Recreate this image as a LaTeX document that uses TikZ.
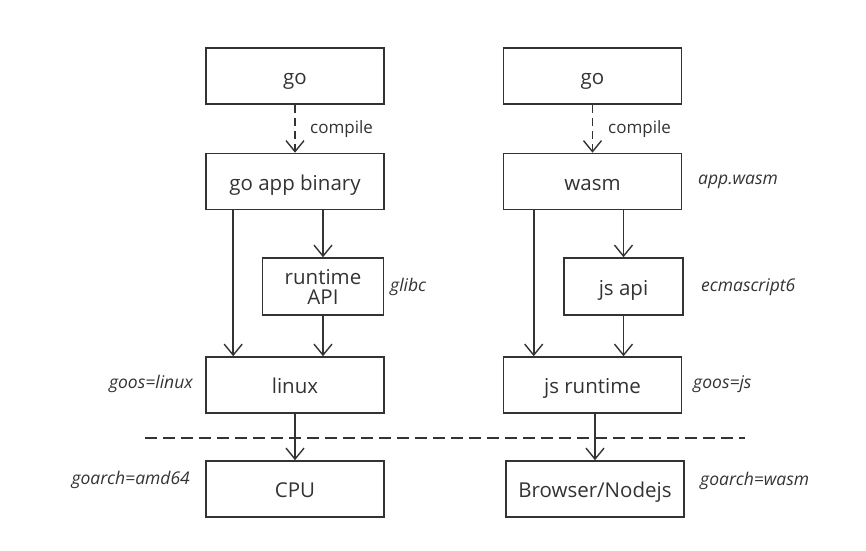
\documentclass[tikz,border=0pt]{standalone}
\usepackage{fontspec}
\setmainfont{Open Sans}
\usetikzlibrary{arrows.meta,calc}
\definecolor{ink}{HTML}{333333}
\tikzset{
  box/.style={draw=ink, line width=1.6pt, text=ink, minimum width=178pt, minimum height=56pt, inner sep=0pt, align=center, font=\fontsize{20.5}{23}\selectfont, text height=17pt, text depth=0pt},
  smallbox/.style={draw=ink, line width=1.6pt, text=ink, minimum width=121pt, minimum height=57pt, inner sep=0pt, align=center, font=\fontsize{20.5}{23}\selectfont},
  arr/.style={draw=ink, line width=1.6pt, -{Straight Barb[length=11pt,width=18pt,line width=1.4pt]}},
  darr/.style={arr, dash pattern=on 8pt off 5pt},
  lbl/.style={text=ink, font=\fontsize{17}{20}\selectfont, inner sep=0pt},
  ilbl/.style={text=ink, font=\fontsize{17.5}{20}\selectfont\itshape, inner sep=0pt},
}
\begin{document}
\begin{tikzpicture}[x=1pt,y=-1pt]
\useasboundingbox (0,0) rectangle (866,550);
% left column
\node[box] (go1) at (295,76) {go};
\node[box] (app) at (295,181.5) {go app binary};
\node[smallbox] (rt) at (323,286.5) {runtime\\[-3pt]API};
\node[box] (linux) at (295,385) {linux};
\node[box] (cpu) at (295,489) {CPU};
% right column
\node[box] (go2) at (592.5,76) {go};
\node[box] (wasm) at (592.5,181.5) {wasm};
\node[box, minimum width=119pt, minimum height=57pt] (jsapi) at (623.5,286.5) {js api};
\node[box] (jsrt) at (592.5,385) {js runtime};
\node[box] (brw) at (595,489) {Browser/Nodejs};
% labels
\node[lbl, anchor=west] (c1) at (310,129) {compile};
\node[lbl, anchor=west] (c2) at (608,129) {compile};
\node[ilbl, anchor=west] (glibc) at (390,287) {glibc};
\node[ilbl, anchor=west] (appw) at (698,182) {app.wasm};
\node[ilbl, anchor=west] (ecma) at (701,287) {ecmascript6};
\node[ilbl, anchor=east] (gl) at (193,384) {goos=linux};
\node[ilbl, anchor=west] (gj) at (693,384) {goos=js};
\node[ilbl, anchor=east] (ga) at (190,480) {goarch=amd64};
\node[ilbl, anchor=west] (gw) at (700,481) {goarch=wasm};
% separator
\coordinate (sepL) at (145,438);
\coordinate (sepR) at (745,438);
\draw[draw=ink, line width=1.6pt, dash pattern=on 12pt off 6pt] (sepL) -- (sepR);
% left arrows
\draw[darr] (go1.south) -- (app.north);
\draw[arr] ($(app.south west)+(28,0)$) -- ($(linux.north west)+(28,0)$);
\draw[arr] (rt.north |- app.south) -- (rt.north);
\draw[arr] (rt.south) -- (rt.south |- linux.north);
\draw[arr] (linux.south) -- (cpu.north);
% right arrows
\draw[darr] (go2.south) -- (wasm.north);
\draw[arr] ($(wasm.south west)+(31,0)$) -- ($(jsrt.north west)+(31,0)$);
\draw[arr] (jsapi.north |- wasm.south) -- (jsapi.north);
\draw[arr] (jsapi.south) -- (jsapi.south |- jsrt.north);
\draw[arr] ($(jsrt.south)+(2.5,0)$) -- (brw.north);
\end{tikzpicture}
\end{document}
